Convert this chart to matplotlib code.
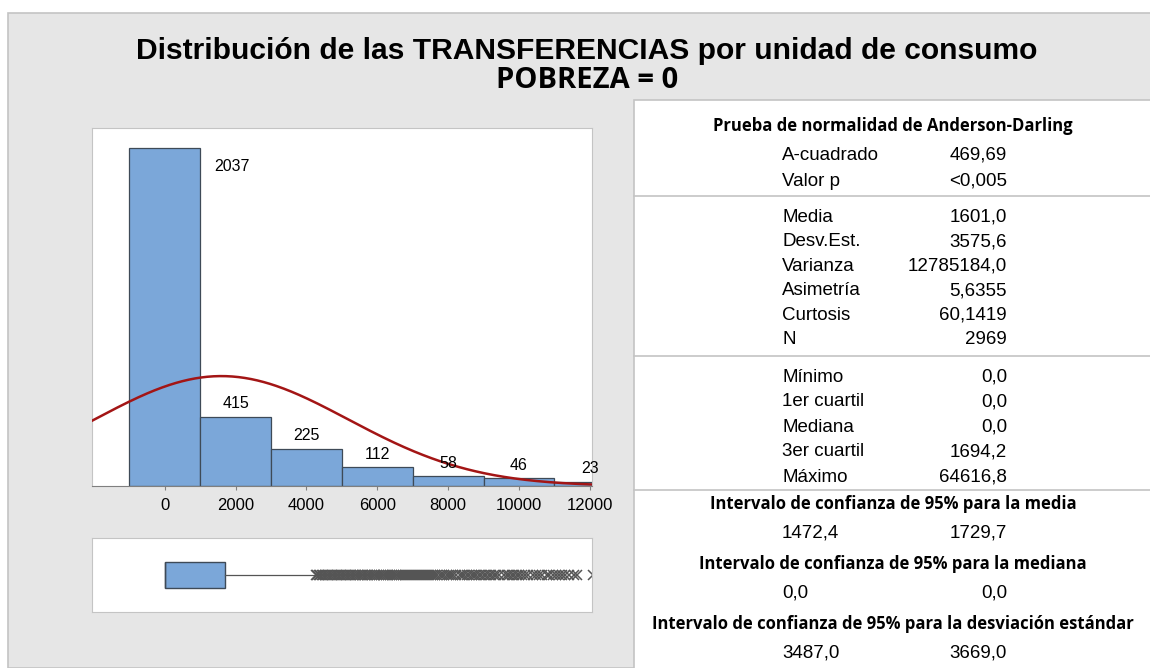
import numpy as np
import matplotlib
matplotlib.use('Agg')
import matplotlib.pyplot as plt
from matplotlib import font_manager as fm
from matplotlib.patches import Rectangle
from matplotlib.lines import Line2D

# Data
bin_centers = [0, 2000, 4000, 6000, 8000, 10000, 12000]
bin_counts = [2037, 415, 225, 112, 58, 46, 23]
bin_width = 2000
xticks = [0, 2000, 4000, 6000, 8000, 10000, 12000]

mean_val = 1601.0
sd_val = 3575.6
n_obs = 2969

q1, median, q3 = 0.0, 0.0, 1694.2
whisker_lo, whisker_hi = 0.0, 4235.0
outliers = [4260, 4300, 4350, 4390, 4440, 4480, 4530, 4570, 4620, 4660,
            4710, 4750, 4800, 4850, 4890, 4940, 4990, 5030, 5080, 5130,
            5170, 5220, 5270, 5320, 5360, 5410, 5460, 5510, 5560, 5600,
            5650, 5700, 5750, 5800, 5850, 5900, 5950, 6000, 6050, 6100,
            6150, 6200, 6250, 6310, 6360, 6410, 6460, 6520, 6570, 6620,
            6680, 6730, 6790, 6840, 6900, 6950, 7010, 7060, 7120, 7180,
            7230, 7290, 7350, 7400, 7460, 7520, 7580, 7640, 7700, 7760,
            7820, 7880, 7960, 8020, 8080, 8150, 8210, 8330, 8400, 8460,
            8530, 8600, 8660, 8730, 8800, 8870, 8940, 9000, 9080, 9150,
            9220, 9290, 9360, 9430, 9580, 9650, 9720, 9790, 9870, 9940,
            10010, 10090, 10170, 10240, 10400, 10480, 10560, 10640, 10780,
            10860, 10950, 11050, 11130, 11220, 11300, 11420, 11560, 11640,
            12080]

stats_rows_1 = [("A-cuadrado", "469,69"), ("Valor p", "<0,005")]
stats_rows_2 = [("Media", "1601,0"), ("Desv.Est.", "3575,6"),
                ("Varianza", "12785184,0"), ("Asimetría", "5,6355"),
                ("Curtosis", "60,1419"), ("N", "2969")]
stats_rows_3 = [("Mínimo", "0,0"), ("1er cuartil", "0,0"), ("Mediana", "0,0"),
                ("3er cuartil", "1694,2"), ("Máximo", "64616,8")]
ci_blocks = [("Intervalo de confianza de 95% para la media", "1472,4", "1729,7"),
             ("Intervalo de confianza de 95% para la mediana", "0,0", "0,0"),
             ("Intervalo de confianza de 95% para la desviación estándar", "3487,0", "3669,0")]

W, H = 1150, 668
bar_blue = '#7BA7D9'
bar_edge = '#3E4A57'
curve_red = '#A31515'
panel_gray = '#E6E6E6'
border_gray = '#C4C4C4'
arial = 'Liberation Sans'


# pick a non-condensed bold Open Sans file (Segoe-like headers)
def bold_sans_file():
    for name in ['Open Sans', 'Lato', 'Roboto']:
        for f in fm.fontManager.ttflist:
            if (f.name == name and f.weight in (700, 'bold') and f.style == 'normal'
                    and 'ondensed' not in f.fname and f.stretch in (500, 'normal')):
                return f.fname
    return None


bold_file = bold_sans_file()


def seg(size):
    if bold_file:
        return fm.FontProperties(fname=bold_file, size=size)
    return fm.FontProperties(family='DejaVu Sans', weight='bold', size=size)


def fx(px):
    return px / W


def fy(py):
    return 1 - py / H


fig = plt.figure(figsize=(W / 100, H / 100), dpi=100, facecolor='white')

# gray background panel
fig.add_artist(Rectangle((fx(8), 0), 1, fy(13), transform=fig.transFigure,
                         facecolor=panel_gray, edgecolor=border_gray, lw=1.2, zorder=0))
# white stats panel
fig.add_artist(Rectangle((fx(634), -0.01), 1, fy(100) + 0.01, transform=fig.transFigure,
                         facecolor='white', edgecolor=border_gray, lw=1.2, zorder=0))

fig.text(fx(587), fy(51), 'Distribución de las TRANSFERENCIAS por unidad de consumo',
         ha='center', va='center', fontsize=21.6, fontweight='bold', family=arial)
fig.text(fx(587), fy(81), 'POBREZA = 0', ha='center', va='center',
         fontproperties=seg(21))

# histogram
ax = fig.add_axes([fx(92), fy(486), fx(500), 358 / H])
ax.bar(bin_centers, bin_counts, width=bin_width, color=bar_blue,
       edgecolor=bar_edge, linewidth=0.9, zorder=2)
xlim = (-2050, 12060)
ax.set_xlim(xlim)
ymax = 2158
ax.set_ylim(0, ymax)
xs = np.linspace(xlim[0], xlim[1], 400)
pdf = np.exp(-0.5 * ((xs - mean_val) / sd_val) ** 2) / (sd_val * np.sqrt(2 * np.pi))
ax.plot(xs, pdf * n_obs * bin_width, color=curve_red, lw=1.8, zorder=3)
for c, n in zip(bin_centers, bin_counts):
    if n > 0.9 * ymax:
        ax.text(c + 1900, n - 110, str(n), ha='center', va='center', fontsize=11.5,
                family=arial, zorder=4)
    else:
        ax.text(c, n + 35, str(n), ha='center', va='bottom', fontsize=11.5,
                family=arial, zorder=4, clip_on=False)
ax.set_xticks(xticks)
ax.set_xticklabels([str(t) for t in xticks], fontsize=12, family=arial)
ax.set_yticks([])
ax.tick_params(axis='x', length=3, color='#808080', pad=6)
for side in ['top', 'right', 'left']:
    ax.spines[side].set_color(border_gray)
ax.spines['bottom'].set_color('#7F7F7F')

# boxplot
bx = fig.add_axes([fx(92), fy(612), fx(500), 74 / H])
bx.bxp([dict(med=median, q1=q1, q3=q3, whislo=whisker_lo, whishi=whisker_hi,
             fliers=outliers)],
       positions=[0.5], widths=0.34, vert=False, patch_artist=True,
       showcaps=False,
       boxprops=dict(facecolor=bar_blue, edgecolor=bar_edge, linewidth=1.0),
       medianprops=dict(color=bar_edge, linewidth=1.0),
       whiskerprops=dict(color='#555555', linewidth=0.9),
       flierprops=dict(marker='x', markersize=7, markeredgecolor='#555555',
                       markeredgewidth=1.1))
bx.set_xlim(xlim)
bx.set_ylim(0, 1)
bx.set_xticks([])
bx.set_yticks([])
for side in bx.spines:
    bx.spines[side].set_color(border_gray)

# stats table
cx = fx(893)
lab_x = fx(782)
val_x = fx(1007)


def header(py, text):
    fig.text(cx, fy(py), text, ha='center', va='center', fontproperties=seg(12))


def row(py, lab, val):
    fig.text(lab_x, fy(py), lab, ha='left', va='center', fontsize=13.5, family=arial)
    fig.text(val_x, fy(py), val, ha='right', va='center', fontsize=13.5, family=arial)


def sep(py):
    fig.add_artist(Line2D([fx(634), 1], [fy(py), fy(py)], transform=fig.transFigure,
                          color=border_gray, lw=1.2))


header(126, 'Prueba de normalidad de Anderson-Darling')
for i, (lab, val) in enumerate(stats_rows_1):
    row(155 + 26 * i, lab, val)
sep(196)
for i, (lab, val) in enumerate(stats_rows_2):
    row(217 + 24.6 * i, lab, val)
sep(356)
for i, (lab, val) in enumerate(stats_rows_3):
    row(377 + 25 * i, lab, val)
sep(490)
for i, (title, lo, hi) in enumerate(ci_blocks):
    base = 504 + 60 * i
    header(base, title)
    row(base + 29, lo, hi)

fig.savefig('out.png', dpi=100, facecolor='white')
